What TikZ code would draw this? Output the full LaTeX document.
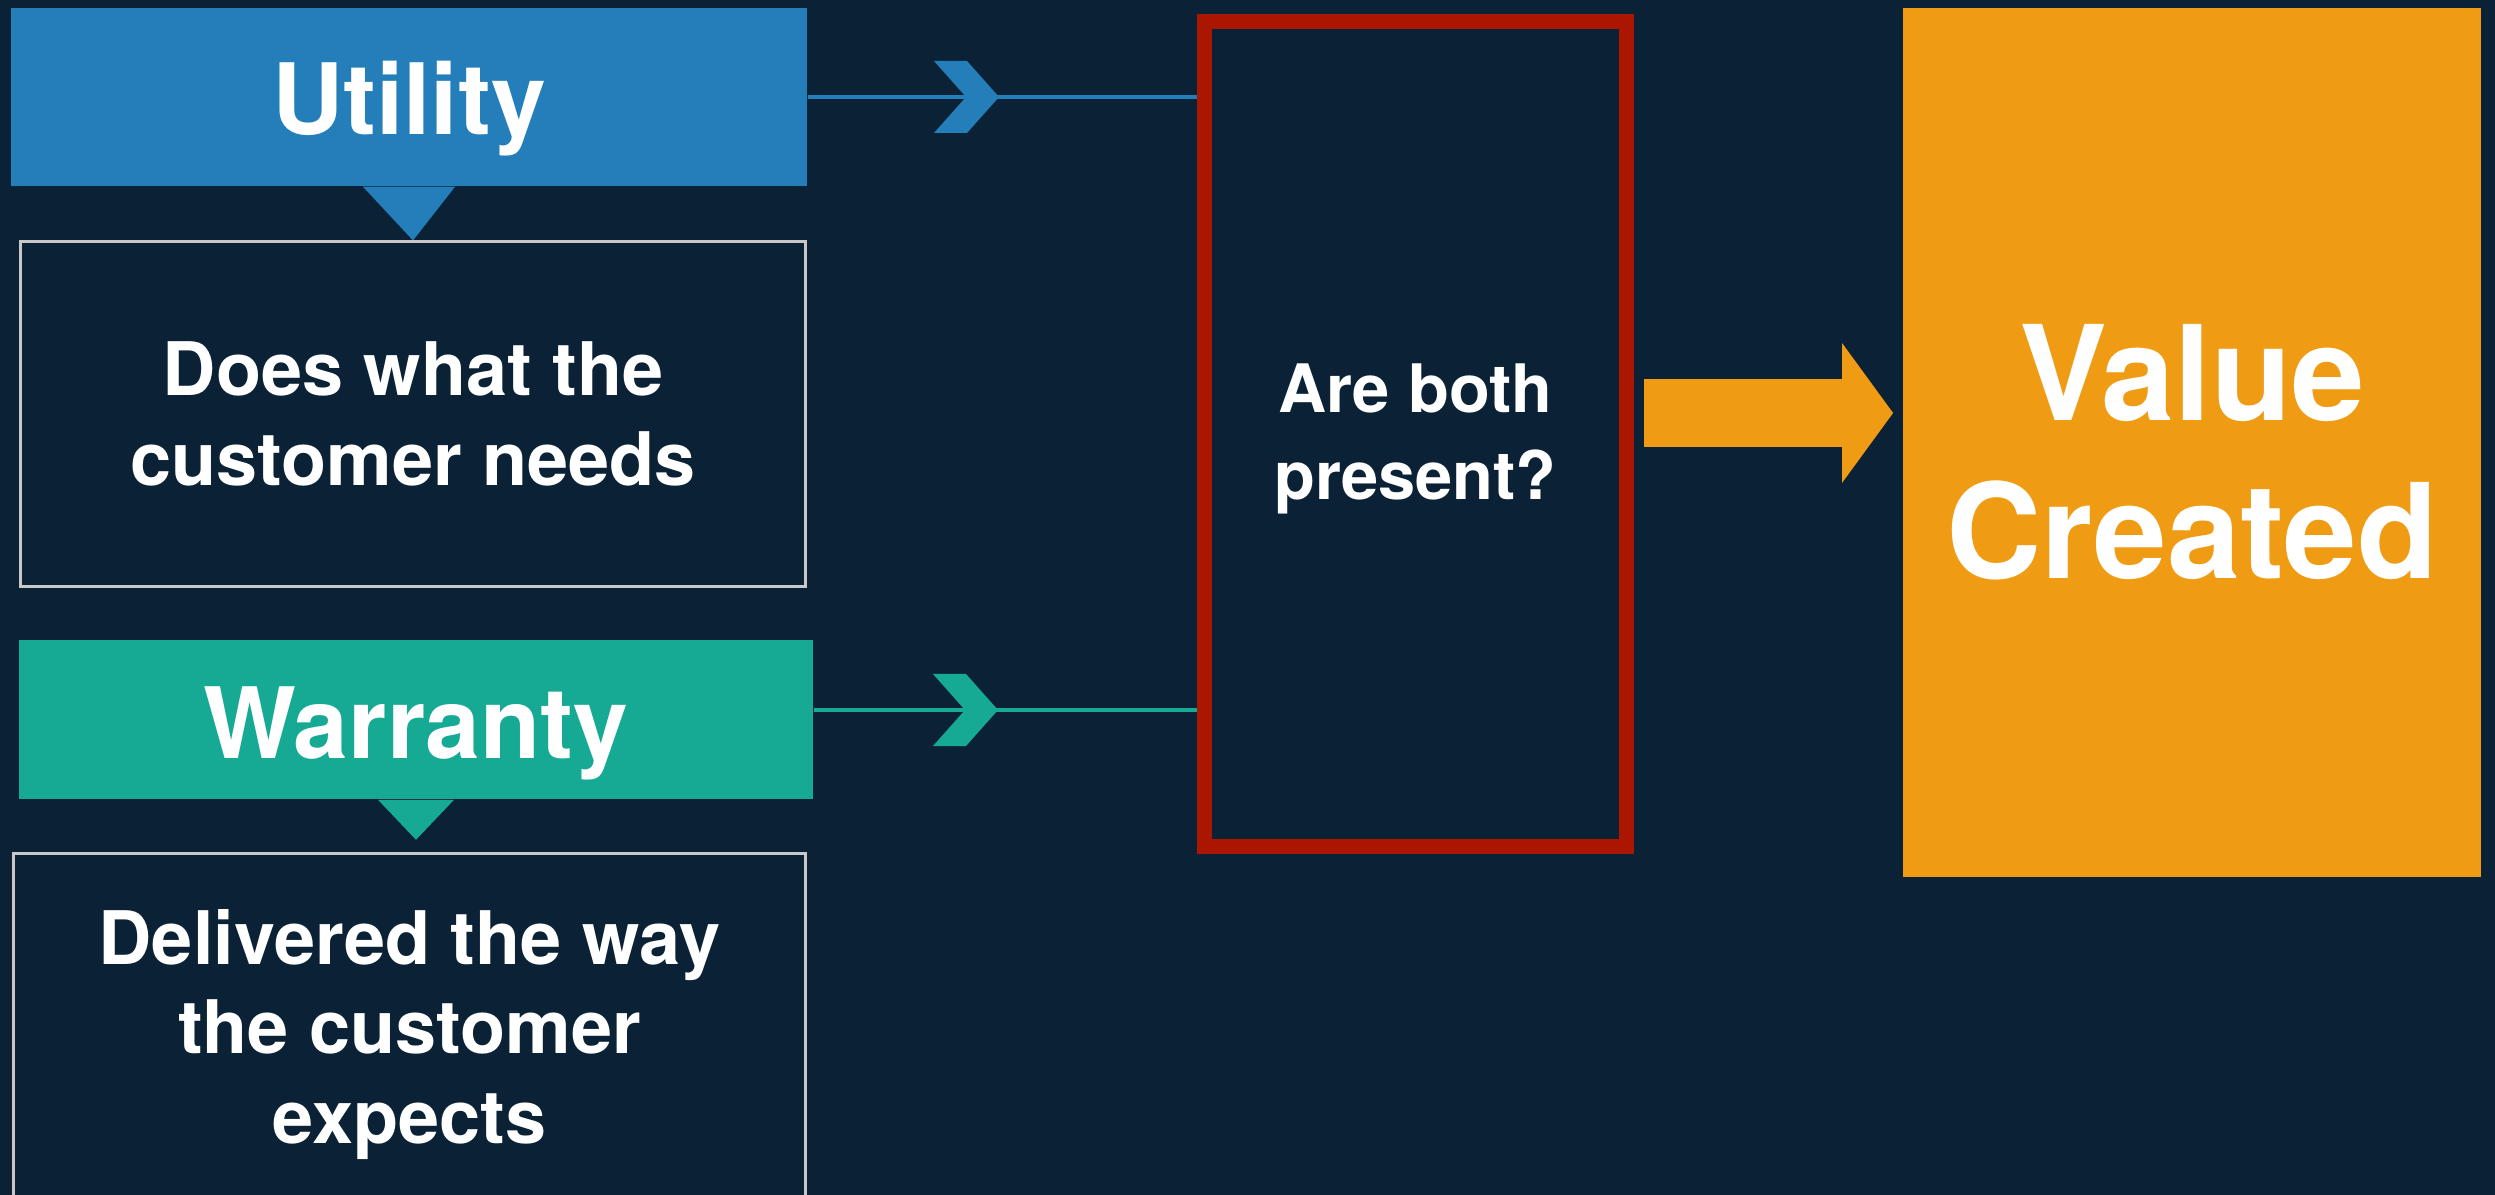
\documentclass[tikz,border=0pt]{standalone}
\usepackage{fontspec}
\setmainfont{TeX Gyre Heros}
\usepackage{tikz}
\usetikzlibrary{arrows.meta}
\definecolor{bgcolor}{RGB}{11, 34, 54}
\definecolor{utilcolor}{RGB}{36, 126, 185}
\definecolor{warrcolor}{RGB}{22, 170, 149}
\definecolor{checkcolor}{RGB}{170, 22, 0}
\definecolor{valuecolor}{RGB}{240, 155, 20}
\definecolor{outlinecolor}{RGB}{200, 200, 200}
\tikzset{
  headbox/.style={fill=#1, text=white, inner sep=0pt, text depth=5.9pt, font=\fontsize{28}{34}\selectfont\bfseries},
  textbox/.style={draw=outlinecolor, line width=0.8pt, text=white, align=center, inner sep=0pt, font=\fontsize{21}{25.5}\selectfont\bfseries},
  link/.style={line width=1.4pt},
  pics/chevron/.style={code={\fill (-65,-36) -- (-32,-36) -- (0,0) -- (-32,36) -- (-65,36) -- (-33,0) -- cycle;}}
}

\begin{document}
\begin{tikzpicture}[x=0.01cm, y=-0.01cm]
    \useasboundingbox (0,0) rectangle (2495,1195);
    \fill[bgcolor] (0,0) rectangle (2495,1195);

    % Left column
    \node[headbox=utilcolor, text height=27.4pt, minimum width=7.96cm, minimum height=1.78cm] (utility) at (409,97) {Utility};
    \node[textbox, minimum width=7.84cm, minimum height=3.44cm] (needs) at (413,414) {Does what the\\customer needs};
    \fill[utilcolor] ([xshift=-0.46cm]utility.south) -- ([xshift=0.46cm]utility.south) -- (needs.north) -- cycle;

    \node[headbox=warrcolor, text height=28pt, minimum width=7.94cm, minimum height=1.59cm] (warranty) at (416,719.5) {Warranty};
    \node[textbox, minimum width=7.91cm, minimum height=3.61cm] (expects) at (409.5,1034.5) {Delivered the way\\the customer\\expects};
    \fill[warrcolor] ([xshift=-0.38cm]warranty.south) -- ([xshift=0.38cm]warranty.south) -- ([yshift=-0.4cm]warranty.south) -- cycle;

    % Middle check
    \node[draw=checkcolor, line width=0.15cm, minimum width=4.22cm, minimum height=8.25cm, inner sep=0pt,
          label={[text=white, align=center, yshift=-0.05cm, font=\fontsize{19}{24.8}\selectfont\bfseries]center:{Are both\\present?}}] (check) at (1415.5,434) {};

    % Links into the check
    \draw[link, utilcolor] (utility.east) -- (utility.east -| check.west);
    \pic[utilcolor] at (999,97) {chevron};
    \draw[link, warrcolor] ([yshift=0.95mm]warranty.east) -- ([yshift=0.95mm]warranty.east -| check.west);
    \pic[warrcolor] at (998,710) {chevron};

    % Result
    \node[fill=valuecolor, minimum width=5.78cm, minimum height=8.69cm, inner sep=0pt,
          label={[text=white, align=center, yshift=-0.1cm, font=\fontsize{37.5}{45}\selectfont\bfseries]center:{Value\\Created}}] (value) at (2192,442.5) {};
    \draw[valuecolor, line width=6.8mm, -{Triangle[length=5.1mm, width=13.7mm]}, shorten <=1mm, shorten >=0.9mm] ([yshift=2.1mm]check.east) -- ([yshift=2.1mm]check.east -| value.west);
\end{tikzpicture}
\end{document}
